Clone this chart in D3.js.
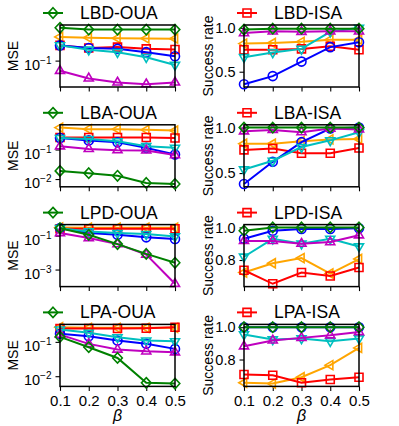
<!DOCTYPE html>
<html>
<head>
<meta charset="utf-8">
<script src="https://cdn.jsdelivr.net/npm/d3@7"></script>
<style>
  body { margin: 0; background: #fff; }
  text { font-family: "Liberation Sans", Arial, sans-serif; }
</style>
</head>
<body>
<div id="chart"></div>
<script>
// x values shared by every panel
var betas = [0.1, 0.2, 0.3, 0.4, 0.5];
var xTicks = [0.1, 0.2, 0.3, 0.4, 0.5];

// panel titles, row by row (left = MSE, right = success rate)
var mseNames = ["LBD-OUA", "LBA-OUA", "LPD-OUA", "LPA-OUA"];
var rateNames = ["LBD-ISA", "LBA-ISA", "LPD-ISA", "LPA-ISA"];

// draw order of the series
var seriesKeys = ["orange", "red", "blue", "cyan", "magenta", "green"];

// MSE values (log scale)
var lbdOua = {
  green:   [0.445, 0.41, 0.41, 0.41, 0.41],
  orange:  [0.294, 0.284, 0.278, 0.275, 0.272],
  red:     [0.20, 0.177, 0.185, 0.171, 0.166],
  blue:    [0.20, 0.177, 0.171, 0.147, 0.122],
  cyan:    [0.20, 0.164, 0.147, 0.117, 0.082],
  magenta: [0.063, 0.0445, 0.037, 0.0342, 0.037]
};
var lbaOua = {
  green:   [0.0189, 0.0158, 0.0129, 0.00736, 0.0068],
  orange:  [0.553, 0.49, 0.49, 0.464, 0.44],
  red:     [0.257, 0.257, 0.257, 0.257, 0.245],
  blue:    [0.245, 0.204, 0.175, 0.114, 0.068],
  cyan:    [0.245, 0.226, 0.19, 0.129, 0.114],
  magenta: [0.129, 0.105, 0.095, 0.093, 0.065]
};
var lpdOua = {
  green:   [0.28, 0.114, 0.032, 0.0084, 0.0025],
  orange:  [0.31, 0.30, 0.30, 0.30, 0.30],
  red:     [0.26, 0.26, 0.26, 0.26, 0.26],
  blue:    [0.28, 0.144, 0.114, 0.08, 0.064],
  cyan:    [0.28, 0.18, 0.144, 0.125, 0.09],
  magenta: [0.144, 0.073, 0.032, 0.0076, 0.000144]
};
var lpaOua = {
  green:   [0.14, 0.07, 0.034, 0.0064, 0.0061],
  orange:  [0.267, 0.256, 0.256, 0.256, 0.256],
  red:     [0.244, 0.244, 0.244, 0.25, 0.267],
  blue:    [0.171, 0.146, 0.109, 0.0875, 0.0625],
  cyan:    [0.228, 0.183, 0.136, 0.109, 0.104],
  magenta: [0.163, 0.0875, 0.0597, 0.053, 0.0498]
};

// success rate values
var lbdIsa = {
  green:   [0.98, 0.99, 0.99, 0.99, 0.99],
  orange:  [0.82, 0.827, 0.84, 0.865, 0.865],
  red:     [0.75, 0.75, 0.76, 0.79, 0.75],
  blue:    [0.358, 0.45, 0.615, 0.78, 0.835],
  cyan:    [0.665, 0.72, 0.76, 0.955, 1.0],
  magenta: [0.94, 0.96, 0.955, 0.96, 0.96]
};
var lbaIsa = {
  green:   [1.0, 1.0, 1.0, 1.0, 1.0],
  orange:  [0.823, 0.823, 0.85, 0.87, 0.875],
  red:     [0.755, 0.77, 0.718, 0.718, 0.775],
  blue:    [0.38, 0.624, 0.84, 0.99, 1.0],
  cyan:    [0.54, 0.635, 0.786, 0.86, 0.95],
  magenta: [0.96, 0.975, 0.95, 0.99, 0.98]
};
var lpdIsa = {
  green:   [0.98, 1.0, 1.0, 1.0, 1.0],
  orange:  [0.723, 0.78, 0.812, 0.717, 0.806],
  red:     [0.737, 0.654, 0.723, 0.702, 0.754],
  blue:    [0.93, 0.98, 0.99, 0.99, 0.995],
  cyan:    [0.82, 0.93, 0.90, 0.93, 0.883],
  magenta: [0.917, 0.917, 0.90, 0.91, 0.952]
};
var lpaIsa = {
  green:   [1.0, 1.0, 1.0, 1.0, 1.0],
  orange:  [0.656, 0.651, 0.69, 0.765, 0.872],
  red:     [0.707, 0.703, 0.656, 0.676, 0.69],
  blue:    [1.0, 1.0, 1.0, 1.0, 1.0],
  cyan:    [0.955, 0.924, 0.93, 0.913, 0.93],
  magenta: [0.882, 0.918, 0.934, 0.95, 0.97]
};

var mseData = [lbdOua, lbaOua, lpdOua, lpaOua];
var rateData = [lbdIsa, lbaIsa, lpdIsa, lpaIsa];

// y tick values
var mseTicks = [[0.1], [0.1, 0.01], [0.1, 0.001], [0.1, 0.01]];
var rateTicks = [[0.5, 1.0], [0.5, 1.0], [0.8, 1.0], [0.8, 1.0]];

// styles
var colors = {
  green: "#008000", orange: "#ffa500", red: "#ff0000",
  blue: "#0000ff", cyan: "#00bfbf", magenta: "#bf00bf"
};
var shapes = {
  green: "diamond", orange: "left", red: "square",
  blue: "circle", cyan: "down", magenta: "up"
};

var svgWidth = 399;
var svgHeight = 426;
var colX = [60, 244];
var plotW = 115;
var plotH = 62;
var rowTop0 = 25;
var rowStep = 99.8;

var svg = d3.select("#chart")
  .append("svg")
  .attr("width", svgWidth)
  .attr("height", svgHeight);

// marker path centred on 0,0
function shapePath(shape) {
  var t = 5.2;
  if (shape === "circle") {
    var r = 4.5;
    return "M" + r + ",0A" + r + "," + r + " 0 1,1 " + (-r) + ",0A" + r + "," + r + " 0 1,1 " + r + ",0Z";
  }
  if (shape === "square") return "M-4,-4H4V4H-4Z";
  if (shape === "diamond") return "M0,-5.2L4.8,0L0,5.2L-4.8,0Z";
  if (shape === "up") return "M0," + (-t) + "L" + (t * 0.87) + "," + (t * 0.5) + "L" + (-t * 0.87) + "," + (t * 0.5) + "Z";
  if (shape === "down") return "M0," + t + "L" + (t * 0.87) + "," + (-t * 0.5) + "L" + (-t * 0.87) + "," + (-t * 0.5) + "Z";
  return "M" + (-t) + ",0L" + (t * 0.5) + "," + (-t * 0.87) + "L" + (t * 0.5) + "," + (t * 0.87) + "Z";
}

function drawPanel(col, row, data, yTickVals, name, isLog) {
  var left = colX[col];
  var top = rowTop0 + row * rowStep;
  var g = svg.append("g").attr("transform", `translate(${left}, ${top})`);

  var x = d3.scaleLinear().domain([0.1, 0.5]).range([0, plotW]);

  var all = [];
  seriesKeys.forEach(k => { all = all.concat(data[k]); });
  var y;
  if (isLog) {
    var lo = Math.log10(d3.min(all)), hi = Math.log10(d3.max(all));
    var pad = (hi - lo) * 0.05;
    y = d3.scaleLog().domain([Math.pow(10, lo - pad), Math.pow(10, hi + pad)]).range([plotH, 0]);
  } else {
    var mn = d3.min(all), mx = d3.max(all);
    var p = (mx - mn) * 0.05;
    y = d3.scaleLinear().domain([mn - p, mx + p]).range([plotH, 0]);
  }

  // axes
  var xAxis = d3.axisBottom(x).tickValues(xTicks).tickSizeInner(4.5).tickSizeOuter(0).tickPadding(4);
  var xg = g.append("g").attr("transform", `translate(0, ${plotH})`).call(xAxis);
  xg.select(".domain").remove();
  xg.selectAll(".tick line").attr("stroke-width", 1.1);
  if (row === 3) {
    xg.selectAll(".tick text").attr("font-size", 15).attr("fill", "#000")
      .text(d => d.toFixed(1));
  } else {
    xg.selectAll(".tick text").remove();
  }

  var yAxis = d3.axisLeft(y).tickValues(yTickVals).tickSizeInner(4.5).tickSizeOuter(0).tickPadding(4);
  var yg = g.append("g").call(yAxis);
  yg.select(".domain").remove();
  yg.selectAll(".tick line").attr("stroke-width", 1.1);
  yg.selectAll(".tick text").attr("font-size", 14.5).attr("fill", "#000");
  if (isLog) {
    yg.selectAll(".tick text").text(null).each(function(d) {
      var t = d3.select(this);
      var e = Math.round(Math.log10(d));
      t.append("tspan").text("10");
      t.append("tspan").attr("dy", -6).attr("font-size", 10).text("\u2212" + Math.abs(e));
    }).attr("dy", "0.6em");
  } else {
    yg.selectAll(".tick text").text(d => d.toFixed(1));
  }

  // lines and markers
  var line = d3.line().x((d, i) => x(betas[i])).y(d => y(d));
  seriesKeys.forEach(k => {
    g.append("path")
      .datum(data[k])
      .attr("d", line)
      .attr("fill", "none")
      .attr("stroke", colors[k])
      .attr("stroke-width", 2);
    g.selectAll(".m-" + k)
      .data(data[k])
      .enter()
      .append("path")
      .attr("class", "m-" + k)
      .attr("transform", (d, i) => `translate(${x(betas[i])}, ${y(d)})`)
      .attr("d", shapePath(shapes[k]))
      .attr("fill", "none")
      .attr("stroke", colors[k])
      .attr("stroke-width", 1.6);
  });

  // frame
  g.append("rect")
    .attr("width", plotW)
    .attr("height", plotH)
    .attr("fill", "none")
    .attr("stroke", "#000")
    .attr("stroke-width", 1.5);

  // y label
  g.append("text")
    .attr("transform", `translate(${col === 0 ? 17.5 - left : 212.5 - left}, ${plotH / 2}) rotate(-90)`)
    .attr("text-anchor", "middle")
    .attr("font-size", 14)
    .text(isLog ? "MSE" : "Success rate");

  // legend (single entry)
  var key = isLog ? "green" : "red";
  var lx = col === 0 ? -17 : -7;
  var ly = -12;
  var lg = g.append("g").attr("transform", `translate(${lx}, ${ly})`);
  lg.append("line").attr("x1", 0).attr("x2", 20).attr("y1", 0).attr("y2", 0)
    .attr("stroke", colors[key]).attr("stroke-width", 2);
  lg.append("path").attr("transform", "translate(10, 0)")
    .attr("d", shapePath(shapes[key]))
    .attr("fill", "none").attr("stroke", colors[key]).attr("stroke-width", 1.6);
  lg.append("text").attr("x", 37).attr("y", 6).attr("font-size", 17.5).text(name);

  // x label on bottom row
  if (row === 3) {
    g.append("text")
      .attr("x", plotW / 2)
      .attr("y", plotH + 34.5)
      .attr("text-anchor", "middle")
      .attr("font-size", 16)
      .attr("font-style", "italic")
      .attr("font-family", "DejaVu Sans")
      .text("\u03b2");
  }
}

for (var r = 0; r < 4; r++) {
  drawPanel(0, r, mseData[r], mseTicks[r], mseNames[r], true);
  drawPanel(1, r, rateData[r], rateTicks[r], rateNames[r], false);
}
</script>
</body>
</html>
